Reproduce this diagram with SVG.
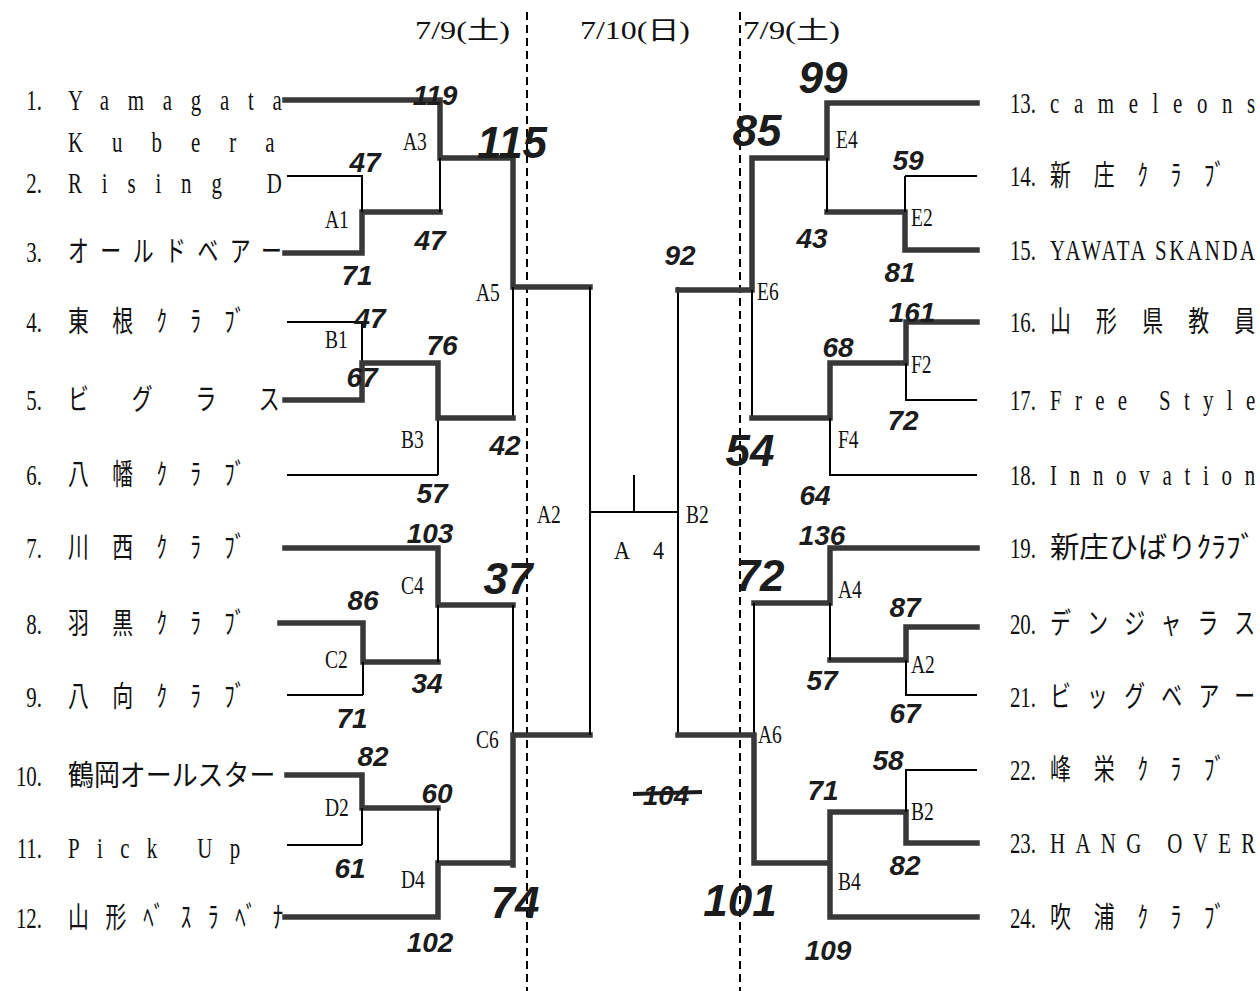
<svg xmlns="http://www.w3.org/2000/svg" width="1260" height="991" viewBox="0 0 1260 991">
<style>
.thin{stroke:#000;stroke-width:2;fill:none}
.thick{stroke:#383838;stroke-width:5.5;fill:none;stroke-linecap:square}
.dash{stroke:#000;stroke-width:2;stroke-dasharray:8 5;fill:none}
.t{font-family:"Liberation Serif","Noto Sans CJK JP",serif;font-size:29px;fill:#111;dominant-baseline:central}
.n{font-family:"Liberation Serif","Noto Sans CJK JP",serif;font-size:29px;fill:#111;dominant-baseline:central;text-anchor:end}
.l{font-family:"Liberation Serif",serif;font-size:26px;fill:#111;dominant-baseline:central}
.d{font-family:"Liberation Serif","Noto Sans CJK JP",serif;font-size:25px;fill:#111;dominant-baseline:central}
.h{font-family:"Liberation Sans",sans-serif;font-style:italic;font-weight:bold;font-size:28px;fill:#1c1c1c;dominant-baseline:central;text-anchor:middle}
.hb{font-size:44px}
</style>
<rect width="1260" height="991" fill="#fff"/>
<g id="days">
<line class="dash" x1="527" y1="12" x2="527" y2="991"/>
<line class="dash" x1="740" y1="12" x2="740" y2="991"/>
<text class="d" x="415" y="30" textLength="95" lengthAdjust="spacingAndGlyphs">7/9(土)</text>
<text class="d" x="580" y="30" textLength="110" lengthAdjust="spacingAndGlyphs">7/10(日)</text>
<text class="d" x="743" y="30" textLength="97" lengthAdjust="spacingAndGlyphs">7/9(土)</text>
</g>
<g id="connectors">
<path class="thick" d="M285,100H440V158M440,158H513V287H590M362,212H440M285,253H362V212"/>
<path class="thin" d="M440,158V212M513,287V418M287,176H362V212"/>
<path class="thin" d="M287,322H362V363M438,418V475M287,475H438"/>
<path class="thick" d="M285,400H362V363H438V418H513"/>
<path class="thick" d="M285,548H438V605H513M280,623H363V662H438"/>
<path class="thin" d="M438,605V662M363,662V695M287,695H363M513,605V735"/>
<path class="thick" d="M513,735H590M513,735V865M438,863H513M438,863V917H285"/>
<path class="thick" d="M287,775H362V808H438"/>
<path class="thin" d="M362,808V845M287,845H362M438,808V863"/>
<path class="thin" d="M590,287V735M590,512H678M634,475V512M678,287V735"/>
<path class="thick" d="M678,290H752V158H827V103H977M827,212H905V250H977"/>
<path class="thin" d="M827,158V212M905,176H977M905,176V212M752,290V418"/>
<path class="thick" d="M977,322H906V363H830V418H752"/>
<path class="thin" d="M906,363V400H977M830,418V475H977"/>
<path class="thick" d="M977,548H830V603H754M977,627H906V660H830"/>
<path class="thin" d="M830,603V660M906,660V695H977M754,603V735"/>
<path class="thick" d="M678,735H754V863M754,863H830V917H977M830,863V812H906V843H977"/>
<path class="thin" d="M977,770H906V812"/>
</g>
<g id="team-1"><text class="n" transform="translate(42,100) scale(0.72,1)">1.</text><text class="t" transform="translate(68,100) scale(0.72,1)" textLength="297" lengthAdjust="spacing">Yamagata</text><text class="t" transform="translate(68,142) scale(0.72,1)" textLength="287" lengthAdjust="spacing">Kubera</text></g>
<g id="team-2"><text class="n" transform="translate(42,183) scale(0.72,1)">2.</text><text class="t" transform="translate(68,183) scale(0.72,1)" textLength="297" lengthAdjust="spacing">Rising  D</text></g>
<g id="team-3"><text class="n" transform="translate(42,252) scale(0.72,1)">3.</text><text class="t" transform="translate(68,252) scale(0.72,1)" textLength="297" lengthAdjust="spacing">オールドベアー</text></g>
<g id="team-4"><text class="n" transform="translate(42,322) scale(0.72,1)">4.</text><text class="t" transform="translate(68,322) scale(0.72,1)" textLength="246" lengthAdjust="spacing">東根ｸﾗﾌﾞ</text></g>
<g id="team-5"><text class="n" transform="translate(42,400) scale(0.72,1)">5.</text><text class="t" transform="translate(68,400) scale(0.72,1)" textLength="294" lengthAdjust="spacing">ビグラス</text></g>
<g id="team-6"><text class="n" transform="translate(42,475) scale(0.72,1)">6.</text><text class="t" transform="translate(68,475) scale(0.72,1)" textLength="246" lengthAdjust="spacing">八幡ｸﾗﾌﾞ</text></g>
<g id="team-7"><text class="n" transform="translate(42,548) scale(0.72,1)">7.</text><text class="t" transform="translate(68,548) scale(0.72,1)" textLength="246" lengthAdjust="spacing">川西ｸﾗﾌﾞ</text></g>
<g id="team-8"><text class="n" transform="translate(42,624) scale(0.72,1)">8.</text><text class="t" transform="translate(68,624) scale(0.72,1)" textLength="246" lengthAdjust="spacing">羽黒ｸﾗﾌﾞ</text></g>
<g id="team-9"><text class="n" transform="translate(42,697) scale(0.72,1)">9.</text><text class="t" transform="translate(68,697) scale(0.72,1)" textLength="246" lengthAdjust="spacing">八向ｸﾗﾌﾞ</text></g>
<g id="team-10"><text class="n" transform="translate(42,776) scale(0.72,1)">10.</text><text class="t" transform="translate(68,776) scale(0.72,1)" textLength="288" lengthAdjust="spacingAndGlyphs">鶴岡オールスター</text></g>
<g id="team-11"><text class="n" transform="translate(42,848) scale(0.72,1)">11.</text><text class="t" transform="translate(68,848) scale(0.72,1)" textLength="239" lengthAdjust="spacing">Pick  Up</text></g>
<g id="team-12"><text class="n" transform="translate(42,918) scale(0.72,1)">12.</text><text class="t" transform="translate(68,918) scale(0.72,1)" textLength="299" lengthAdjust="spacing">山形ﾍﾞｽﾗﾍﾞﾅ</text></g>
<g id="team-13"><text class="n" transform="translate(1036,103) scale(0.72,1)">13.</text><text class="t" transform="translate(1050,103) scale(0.72,1)" textLength="285" lengthAdjust="spacing">cameleons</text></g>
<g id="team-14"><text class="n" transform="translate(1036,176) scale(0.72,1)">14.</text><text class="t" transform="translate(1050,176) scale(0.72,1)" textLength="243" lengthAdjust="spacing">新庄ｸﾗﾌﾞ</text></g>
<g id="team-15"><text class="n" transform="translate(1036,250) scale(0.72,1)">15.</text><text class="t" transform="translate(1050,250) scale(0.72,1)" textLength="285" lengthAdjust="spacing">YAWATA SKANDA</text></g>
<g id="team-16"><text class="n" transform="translate(1036,322) scale(0.72,1)">16.</text><text class="t" transform="translate(1050,322) scale(0.72,1)" textLength="285" lengthAdjust="spacing">山形県教員</text></g>
<g id="team-17"><text class="n" transform="translate(1036,400) scale(0.72,1)">17.</text><text class="t" transform="translate(1050,400) scale(0.72,1)" textLength="285" lengthAdjust="spacing">Free Style</text></g>
<g id="team-18"><text class="n" transform="translate(1036,475) scale(0.72,1)">18.</text><text class="t" transform="translate(1050,475) scale(0.72,1)" textLength="285" lengthAdjust="spacing">Innovation</text></g>
<g id="team-19"><text class="n" transform="translate(1036,548) scale(0.72,1)">19.</text><text class="t" transform="translate(1050,548) scale(0.72,1)" textLength="285" lengthAdjust="spacingAndGlyphs">新庄ひばりｸﾗﾌﾞ</text></g>
<g id="team-20"><text class="n" transform="translate(1036,624) scale(0.72,1)">20.</text><text class="t" transform="translate(1050,624) scale(0.72,1)" textLength="285" lengthAdjust="spacing">デンジャラス</text></g>
<g id="team-21"><text class="n" transform="translate(1036,697) scale(0.72,1)">21.</text><text class="t" transform="translate(1050,697) scale(0.72,1)" textLength="285" lengthAdjust="spacing">ビッグベアー</text></g>
<g id="team-22"><text class="n" transform="translate(1036,770) scale(0.72,1)">22.</text><text class="t" transform="translate(1050,770) scale(0.72,1)" textLength="243" lengthAdjust="spacing">峰栄ｸﾗﾌﾞ</text></g>
<g id="team-23"><text class="n" transform="translate(1036,843) scale(0.72,1)">23.</text><text class="t" transform="translate(1050,843) scale(0.72,1)" textLength="285" lengthAdjust="spacing">HANG  OVER</text></g>
<g id="team-24"><text class="n" transform="translate(1036,918) scale(0.72,1)">24.</text><text class="t" transform="translate(1050,918) scale(0.72,1)" textLength="243" lengthAdjust="spacing">吹浦ｸﾗﾌﾞ</text></g>
<g id="match-labels">
<text class="l" transform="translate(403,142) scale(0.75,1)">A3</text>
<text class="l" transform="translate(325,220) scale(0.75,1)">A1</text>
<text class="l" transform="translate(476,293) scale(0.75,1)">A5</text>
<text class="l" transform="translate(325,340) scale(0.75,1)">B1</text>
<text class="l" transform="translate(401,440) scale(0.75,1)">B3</text>
<text class="l" transform="translate(537,515) scale(0.75,1)">A2</text>
<text class="l" transform="translate(401,586) scale(0.75,1)">C4</text>
<text class="l" transform="translate(325,660) scale(0.75,1)">C2</text>
<text class="l" transform="translate(476,740) scale(0.75,1)">C6</text>
<text class="l" transform="translate(325,808) scale(0.75,1)">D2</text>
<text class="l" transform="translate(401,880) scale(0.75,1)">D4</text>
<text class="l" transform="translate(614,550) scale(0.85,1)" textLength="59" lengthAdjust="spacing">A4</text>
<text class="l" transform="translate(686,515) scale(0.75,1)">B2</text>
<text class="l" transform="translate(836,140) scale(0.75,1)">E4</text>
<text class="l" transform="translate(911,218) scale(0.75,1)">E2</text>
<text class="l" transform="translate(757,292) scale(0.75,1)">E6</text>
<text class="l" transform="translate(911,365) scale(0.75,1)">F2</text>
<text class="l" transform="translate(838,440) scale(0.75,1)">F4</text>
<text class="l" transform="translate(838,590) scale(0.75,1)">A4</text>
<text class="l" transform="translate(911,665) scale(0.75,1)">A2</text>
<text class="l" transform="translate(758,735) scale(0.75,1)">A6</text>
<text class="l" transform="translate(911,812) scale(0.75,1)">B2</text>
<text class="l" transform="translate(838,882) scale(0.75,1)">B4</text>
</g>
<g id="scores">
<text class="h" x="435" y="95">119</text>
<text class="h hb" x="512" y="142">115</text>
<text class="h" x="365" y="162">47</text>
<text class="h" x="430" y="240">47</text>
<text class="h" x="357" y="275">71</text>
<text class="h" x="370" y="318">47</text>
<text class="h" x="442" y="345">76</text>
<text class="h" x="362" y="377">67</text>
<text class="h" x="505" y="445">42</text>
<text class="h" x="432" y="493">57</text>
<text class="h" x="430" y="533">103</text>
<text class="h hb" x="508" y="578">37</text>
<text class="h" x="363" y="600">86</text>
<text class="h" x="427" y="683">34</text>
<text class="h" x="352" y="718">71</text>
<text class="h" x="373" y="756">82</text>
<text class="h" x="437" y="793">60</text>
<text class="h" x="350" y="868">61</text>
<text class="h hb" x="515" y="902" font-size="52">74</text>
<text class="h" x="430" y="942">102</text>
<text class="h hb" x="823" y="77" font-size="40">99</text>
<text class="h hb" x="757" y="130">85</text>
<text class="h" x="908" y="160">59</text>
<text class="h" x="812" y="238">43</text>
<text class="h" x="900" y="272">81</text>
<text class="h" x="680" y="255">92</text>
<text class="h" x="912" y="312">161</text>
<text class="h" x="838" y="347">68</text>
<text class="h" x="903" y="420">72</text>
<text class="h hb" x="750" y="450" font-size="38">54</text>
<text class="h" x="815" y="495">64</text>
<text class="h" x="822" y="535">136</text>
<text class="h hb" x="760" y="575" font-size="38">72</text>
<text class="h" x="905" y="607">87</text>
<text class="h" x="822" y="680">57</text>
<text class="h" x="905" y="713">67</text>
<text class="h" x="888" y="760">58</text>
<text class="h" x="823" y="790">71</text>
<text class="h" x="905" y="865">82</text>
<text class="h" x="666" y="795">104</text>
<line x1="633" y1="794" x2="702" y2="792" stroke="#1c1c1c" stroke-width="4"/>
<text class="h hb" x="740" y="900">101</text>
<text class="h" x="828" y="950" font-size="34">109</text>
</g>
</svg>
